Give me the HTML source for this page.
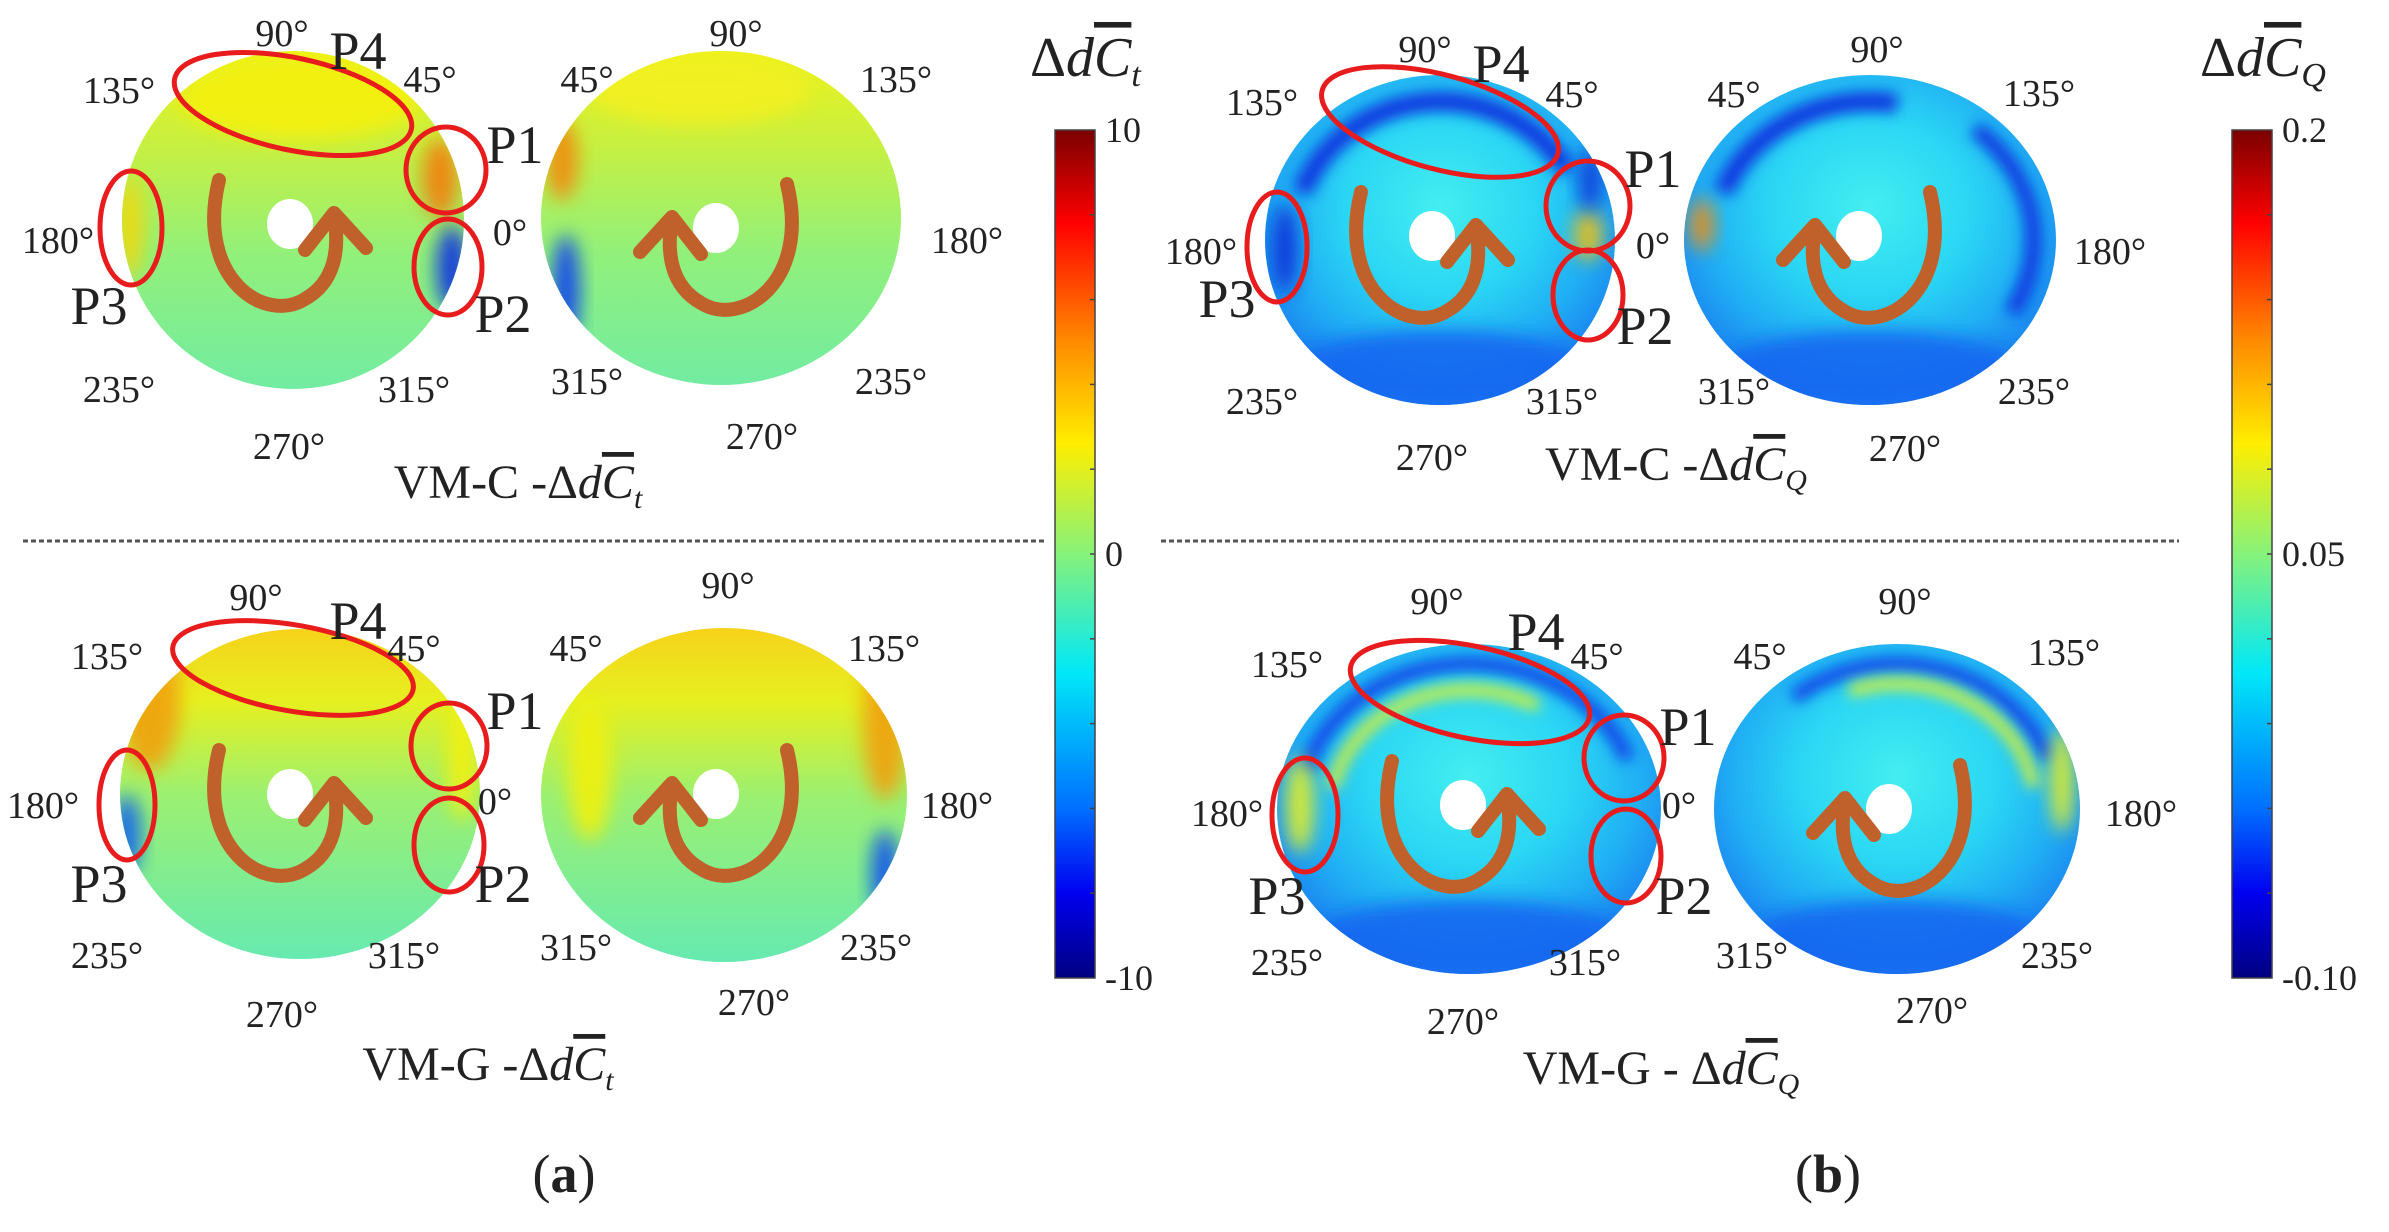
<!DOCTYPE html>
<html><head><meta charset="utf-8"><style>
html,body{margin:0;padding:0;background:#fff;}
svg{display:block;}
</style></head><body>
<svg id="fig" width="2389" height="1232" viewBox="0 0 2389 1232" xmlns="http://www.w3.org/2000/svg">
<defs>
<linearGradient id="jet" x1="0" y1="0" x2="0" y2="1">
<stop offset="0" stop-color="#7a0000"/><stop offset="0.11" stop-color="#ff0000"/><stop offset="0.25" stop-color="#ff8c00"/><stop offset="0.37" stop-color="#ffee00"/><stop offset="0.5" stop-color="#86f27a"/><stop offset="0.64" stop-color="#00e8f8"/><stop offset="0.8" stop-color="#0070ff"/><stop offset="0.9" stop-color="#0000f0"/><stop offset="1" stop-color="#000080"/>
</linearGradient>
<linearGradient id="gA1" x1="0" y1="0" x2="0" y2="1">
<stop offset="0" stop-color="#eef21a"/><stop offset="0.3" stop-color="#c4f044"/><stop offset="0.6" stop-color="#92f07a"/><stop offset="1" stop-color="#72eca2"/>
</linearGradient>
<linearGradient id="gA2" x1="0" y1="0" x2="0" y2="1">
<stop offset="0" stop-color="#f6d21a"/><stop offset="0.22" stop-color="#e6f020"/><stop offset="0.5" stop-color="#9cf070"/><stop offset="1" stop-color="#66eab0"/>
</linearGradient>
<radialGradient id="gB" cx="0.5" cy="0.4" r="0.6">
<stop offset="0" stop-color="#44eef0"/><stop offset="0.45" stop-color="#2ad6f4"/><stop offset="0.75" stop-color="#20aef4"/><stop offset="1" stop-color="#1a80f0"/>
</radialGradient>
<filter id="blur" x="-50%" y="-50%" width="200%" height="200%"><feGaussianBlur stdDeviation="9"/></filter>
<filter id="blur2" x="-50%" y="-50%" width="200%" height="200%"><feGaussianBlur stdDeviation="7"/></filter>
</defs>

<line x1="23" y1="541" x2="1044" y2="541" stroke="#555" stroke-width="3" stroke-dasharray="5,3"/>
<line x1="1161" y1="541" x2="2179" y2="541" stroke="#555" stroke-width="3" stroke-dasharray="5,3"/>

<g id="disks"></g>
<g id="labels"></g>
<g id="cbars"></g>

<g font-family="Liberation Serif, serif" fill="#222">
<text font-size="48" x="518" y="498" text-anchor="middle">VM-C -<tspan>Δ</tspan><tspan font-style="italic">d</tspan><tspan font-style="italic" text-decoration="overline">C</tspan><tspan font-style="italic" font-size="30" dy="10">t</tspan></text>
<text font-size="48" x="488" y="1080" text-anchor="middle">VM-G -<tspan>Δ</tspan><tspan font-style="italic">d</tspan><tspan font-style="italic" text-decoration="overline">C</tspan><tspan font-style="italic" font-size="30" dy="10">t</tspan></text>
<text font-size="48" x="1676" y="480" text-anchor="middle">VM-C -<tspan>Δ</tspan><tspan font-style="italic">d</tspan><tspan font-style="italic" text-decoration="overline">C</tspan><tspan font-style="italic" font-size="30" dy="10">Q</tspan></text>
<text font-size="48" x="1661" y="1084" text-anchor="middle">VM-G - <tspan>Δ</tspan><tspan font-style="italic">d</tspan><tspan font-style="italic" text-decoration="overline">C</tspan><tspan font-style="italic" font-size="30" dy="10">Q</tspan></text>
<text x="564" y="1192" text-anchor="middle" font-size="54">(<tspan font-weight="bold">a</tspan>)</text>
<text x="1828" y="1192" text-anchor="middle" font-size="54">(<tspan font-weight="bold">b</tspan>)</text>
<text x="1030" y="76" font-size="56">Δ<tspan font-style="italic">d</tspan><tspan font-style="italic" text-decoration="overline">C</tspan><tspan font-style="italic" font-size="34" dy="10">t</tspan></text>
<text x="2200" y="76" font-size="56">Δ<tspan font-style="italic">d</tspan><tspan font-style="italic" text-decoration="overline">C</tspan><tspan font-style="italic" font-size="34" dy="10">Q</tspan></text>
</g>
</svg>
<script>
const NS='http://www.w3.org/2000/svg';
const cbATicks=[10,0,-10];
const cbATickLabels=['10','0','-10'];
const cbADomain=[10,-10];
const cbBTicks=[0.2,0.05,-0.10];
const cbBTickLabels=['0.2','0.05','-0.10'];
const cbBDomain=[0.2,-0.10];
const SERIF='Liberation Serif, serif';

function mk(tag,attrs,parent){const e=document.createElementNS(NS,tag);for(const k in attrs)e.setAttribute(k,attrs[k]);parent.appendChild(e);return e;}

const disks=[
 {id:'a-top-left',cx:293,cy:220,rx:171,ry:169,hx:290,hy:224,m:1,g:'gA1'},
 {id:'a-top-right',cx:721,cy:218,rx:180,ry:167,hx:716,hy:228,m:-1,g:'gA1'},
 {id:'a-bottom-left',cx:300,cy:794,rx:180,ry:165,hx:290,hy:794,m:1,g:'gA2'},
 {id:'a-bottom-right',cx:724,cy:795,rx:183,ry:167,hx:716,hy:794,m:-1,g:'gA2'},
 {id:'b-top-left',cx:1440,cy:240,rx:175,ry:165,hx:1432,hy:236,m:1,g:'gB'},
 {id:'b-top-right',cx:1870,cy:240,rx:186,ry:165,hx:1859,hy:236,m:-1,g:'gB'},
 {id:'b-bottom-left',cx:1469,cy:809,rx:192,ry:165,hx:1463,hy:805,m:1,g:'gB'},
 {id:'b-bottom-right',cx:1897,cy:809,rx:183,ry:165,hx:1889,hy:809,m:-1,g:'gB'}];
const blobs=[
 [0,'e',440,178,18,40,'#f08010'],[0,'e',452,268,16,42,'#1030e0'],[0,'e',130,228,14,50,'#f0d810'],[0,'e',300,100,120,40,'#f4f010'],
 [1,'e',562,160,16,40,'#f08a10'],[1,'e',566,290,14,55,'#1040f0'],[1,'e',700,90,110,35,'#f2f020'],
 [2,'e',150,700,30,70,'#f0a010'],[2,'e',127,835,14,40,'#1060f0'],[2,'e',462,760,14,60,'#f4f010'],
 [3,'e',885,720,22,80,'#f0a010'],[3,'e',885,875,14,45,'#1050f0'],[3,'e',590,770,22,70,'#f0f010'],
 [4,'a',0.84,200,330,'#0c38e0',20],[4,'e',1588,235,14,26,'#f0c010'],[4,'e',1285,248,14,45,'#0830d8'],[4,'e',1590,180,12,32,'#0838d8'],[4,'e',1440,370,150,40,'#1868f0'],
 [5,'a',0.84,200,280,'#0c38e0',20],[5,'e',1702,225,12,26,'#f09010'],[5,'a',0.88,-50,30,'#0c38e0',16],[5,'e',1870,370,150,40,'#1868f0'],
 [6,'a',0.88,195,340,'#1040e8',14],[6,'a',0.72,190,300,'#d8f030',12],[6,'e',1300,805,14,48,'#e8f020'],[6,'e',1469,940,160,40,'#1868f0'],
 [7,'a',0.88,230,340,'#1040e8',14],[7,'a',0.76,250,350,'#d8f030',12],[7,'e',2062,780,12,52,'#e8f020'],[7,'e',1897,940,150,40,'#1868f0']];

const dg=document.getElementById('disks');
disks.forEach((d,i)=>{
 const clip=mk('clipPath',{id:'clip'+i},document.querySelector('defs'));
 mk('ellipse',{cx:d.cx,cy:d.cy,rx:d.rx,ry:d.ry},clip);
 const g=mk('g',{},dg);
 
 
 mk('ellipse',{cx:d.cx,cy:d.cy,rx:d.rx,ry:d.ry,fill:'url(#'+d.g+')'},g);
 const fg=mk('g',{'clip-path':'url(#clip'+i+')'},g);
 blobs.filter(b=>b[0]===i).forEach(b=>{
  if(b[1]==='e'){mk('ellipse',{cx:b[2],cy:b[3],rx:b[4],ry:b[5],fill:b[6],filter:'url(#blur)',opacity:0.9},fg);}
  else{const f=b[2],a0=b[3]*Math.PI/180,a1=b[4]*Math.PI/180;
   const p0=[d.cx+d.rx*f*Math.cos(a0),d.cy+d.ry*f*Math.sin(a0)],p1=[d.cx+d.rx*f*Math.cos(a1),d.cy+d.ry*f*Math.sin(a1)];
   mk('path',{d:`M${p0[0]},${p0[1]} A${d.rx*f},${d.ry*f} 0 0 1 ${p1[0]},${p1[1]}`,fill:'none',stroke:b[5],'stroke-width':b[6],filter:'url(#blur2)'},fg);}
 });
 const hole=mk('ellipse',{cx:d.hx,cy:d.hy,rx:23,ry:25,fill:'#fff'},g);
 
 
 const m=d.m,X=dx=>d.hx+m*dx,Y=dy=>d.hy+dy;
 const arr=mk('path',{d:`M${X(-71)},${Y(-44)} C${X(-95)},${Y(55)} ${X(-25)},${Y(100)} ${X(15)},${Y(75)} C${X(45)},${Y(58)} ${X(50)},${Y(25)} ${X(44)},${Y(-8)} M${X(15)},${Y(26)} L${X(44)},${Y(-11)} L${X(76)},${Y(24)}`,fill:'none',stroke:'#c0602a','stroke-width':14,'stroke-linecap':'round','stroke-linejoin':'round'},g);
 
 
});

const ells=[[293,104,121,46,12],[446,170,40,43,0],[448,267,34,48,0],[131,228,31,57,0],
 [293,668,122,43,10],[449,746,38,43,0],[449,845,35,47,0],[127,805,28,55,0],
 [1440,122,122,47,15],[1588,206,42,45,0],[1588,295,35,45,0],[1277,247,30,55,0],
 [1470,692,122,46,12],[1624,758,40,43,0],[1626,856,35,47,0],[1305,815,33,57,0]];
const eNames=['p4','p1','p2','p3'];
const lg=document.getElementById('labels');
ells.forEach((e,i)=>{
 const el=mk('ellipse',{cx:e[0],cy:e[1],rx:e[2],ry:e[3],transform:`rotate(${e[4]} ${e[0]} ${e[1]})`,fill:'none',stroke:'#e81c1c','stroke-width':5},lg);
 
 
});

const angs=[
 ['90°',282,33],['45°',430,79],['135°',119,90],['180°',58,240],['0°',510,232],['235°',119,389],['315°',414,389],['270°',289,446],
 ['90°',736,33],['45°',587,79],['135°',896,79],['180°',967,240],['315°',587,381],['235°',891,381],['270°',762,436],
 ['90°',256,597],['45°',414,648],['135°',107,656],['180°',43,805],['0°',495,801],['235°',107,955],['315°',404,955],['270°',282,1014],
 ['90°',728,585],['45°',576,648],['135°',884,648],['180°',957,805],['315°',576,947],['235°',876,947],['270°',754,1002],
 ['90°',1425,49],['45°',1572,94],['135°',1262,102],['180°',1201,251],['0°',1653,245],['235°',1262,401],['315°',1562,401],['270°',1432,457],
 ['90°',1877,49],['45°',1734,94],['135°',2039,93],['180°',2110,251],['315°',1734,391],['235°',2034,391],['270°',1905,448],
 ['90°',1437,601],['45°',1597,656],['135°',1287,664],['180°',1227,813],['0°',1679,805],['235°',1287,962],['315°',1585,962],['270°',1463,1021],
 ['90°',1905,601],['45°',1760,656],['135°',2064,652],['180°',2141,813],['315°',1752,955],['235°',2057,955],['270°',1932,1010]];
angs.forEach(a=>{
 const t=mk('text',{x:a[1],y:a[2]+13,'font-family':SERIF,'font-size':38,fill:'#222','text-anchor':'middle'},lg);t.textContent=a[0];
 
 
});
const pls=[['P4',358,51],['P1',515,145],['P3',99,306],['P2',503,314],
 ['P4',358,621],['P1',515,711],['P3',99,884],['P2',503,884],
 ['P4',1501,64],['P1',1653,169],['P3',1227,299],['P2',1645,326],
 ['P4',1536,632],['P1',1688,727],['P3',1277,896],['P2',1684,896]];
pls.forEach(p=>{
 const t=mk('text',{x:p[1],y:p[2]+18,'font-family':SERIF,'font-size':54,fill:'#222','text-anchor':'middle'},lg);t.textContent=p[0];
 
 
});

function colorbar(x,w,top,bot,dom,ticks,labels,name){
 const cg=document.getElementById('cbars');
 const r=mk('rect',{x:x,y:top,width:w,height:bot-top,fill:'url(#jet)',stroke:'#444','stroke-width':1.5},cg);
 
 
 const sy=v=>top+(v-dom[0])/(dom[1]-dom[0])*(bot-top);
 for(let k=1;k<10;k++){mk('line',{x1:x+w-5,x2:x+w,y1:top+k*(bot-top)/10,y2:top+k*(bot-top)/10,stroke:'#444','stroke-width':1.5},cg);}
 ticks.forEach((v,i)=>{
  const t=mk('text',{x:x+w+10,y:sy(v)+12,'font-family':SERIF,'font-size':36,fill:'#222'},cg);t.textContent=labels[i];
  
  
 });
}
colorbar(1055,40,130,978,cbADomain,cbATicks,cbATickLabels,'colorbar-a');
colorbar(2232,40,130,978,cbBDomain,cbBTicks,cbBTickLabels,'colorbar-b');
</script>
</body></html>
